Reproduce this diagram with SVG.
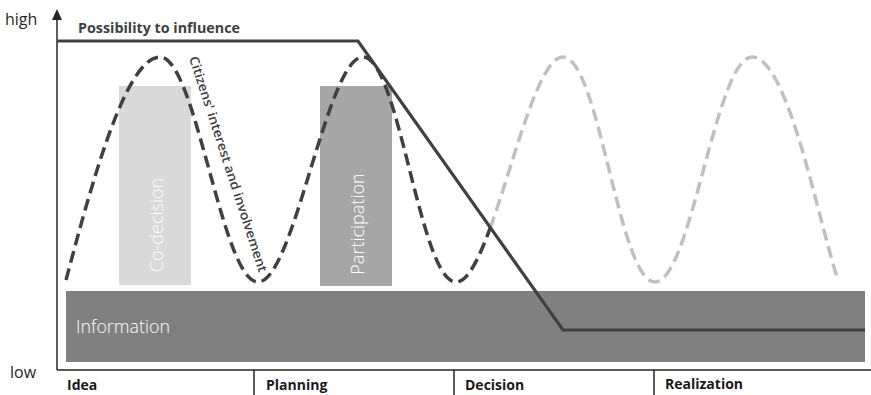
<svg xmlns="http://www.w3.org/2000/svg" width="871" height="395" viewBox="0 0 871 395">
<defs>
<style>
.t{font-family:"Open Sans","Liberation Sans",sans-serif}
.ax{fill:#262626;font-size:16px}
.ph{fill:#1a1a1a;font-size:14px;font-weight:700}
.box{fill:#fff;font-size:18px;font-weight:300}
.dash{fill:none;stroke-width:3.5;stroke-dasharray:12 6}
.axis{stroke:#262626;stroke-width:1.5}
</style>
</defs>
<rect width="871" height="395" fill="#fff"/>

<g id="axes">
<line class="axis" x1="57" y1="370" x2="57" y2="14"/>
<path d="M52,20 L57,9 L62,20 Z" fill="#262626"/>
<line class="axis" x1="57" y1="370" x2="871" y2="370"/>
<line class="axis" x1="254" y1="370" x2="254" y2="395"/>
<line class="axis" x1="454" y1="370" x2="454" y2="395"/>
<line class="axis" x1="654" y1="370" x2="654" y2="395"/>
<text class="t ax" x="5" y="25">high</text>
<text class="t ax" x="10" y="378">low</text>
<text class="t ph" x="67" y="390">Idea</text>
<text class="t ph" x="266" y="390">Planning</text>
<text class="t ph" x="465" y="390">Decision</text>
<text class="t ph" x="665" y="389">Realization</text>
</g>

<g id="information">
<rect x="66" y="291" width="799" height="71" fill="#808080"/>
<text class="t box" x="76" y="333" font-size="17" textLength="94" lengthAdjust="spacingAndGlyphs">Information</text>
</g>

<g id="co-decision">
<rect x="119" y="86" width="72" height="199" fill="#d9d9d9"/>
<text class="t box" transform="translate(163,225) rotate(-90)" text-anchor="middle">Co-decision</text>
</g>

<g id="participation">
<rect x="320" y="86" width="72" height="200" fill="#a6a6a6"/>
<text class="t box" transform="translate(364,224) rotate(-90)" text-anchor="middle">Participation</text>
</g>

<g id="interest">
<path class="dash" stroke="#c0c0c0" d="M490.3,227.6 C514.5,161 538.5,57 563,57 C599,57 619,282 655,282 C691,282 716,57 752,57 C788,57 818,220 838,280"/>
<path class="dash" stroke="#404040" d="M66,280 C90,190 125,57 160,57 C196,57 222,282 258,282 C294,282 327,57 363,57 C399,57 420,282 456,282 C467.5,282 478.9,259 490.3,227.6"/>
<text class="t" fill="#404040" font-size="13" font-weight="600" transform="translate(189,58) rotate(72)" textLength="226" lengthAdjust="spacingAndGlyphs">Citizens' interest and involvement</text>
</g>

<g id="influence">
<polyline points="57,41 358,41 563,330 865,330" fill="none" stroke="#404040" stroke-width="3.2"/>
<text class="t" fill="#404040" font-size="14" font-weight="700" x="78" y="33" textLength="162" lengthAdjust="spacingAndGlyphs">Possibility to influence</text>
</g>
</svg>
